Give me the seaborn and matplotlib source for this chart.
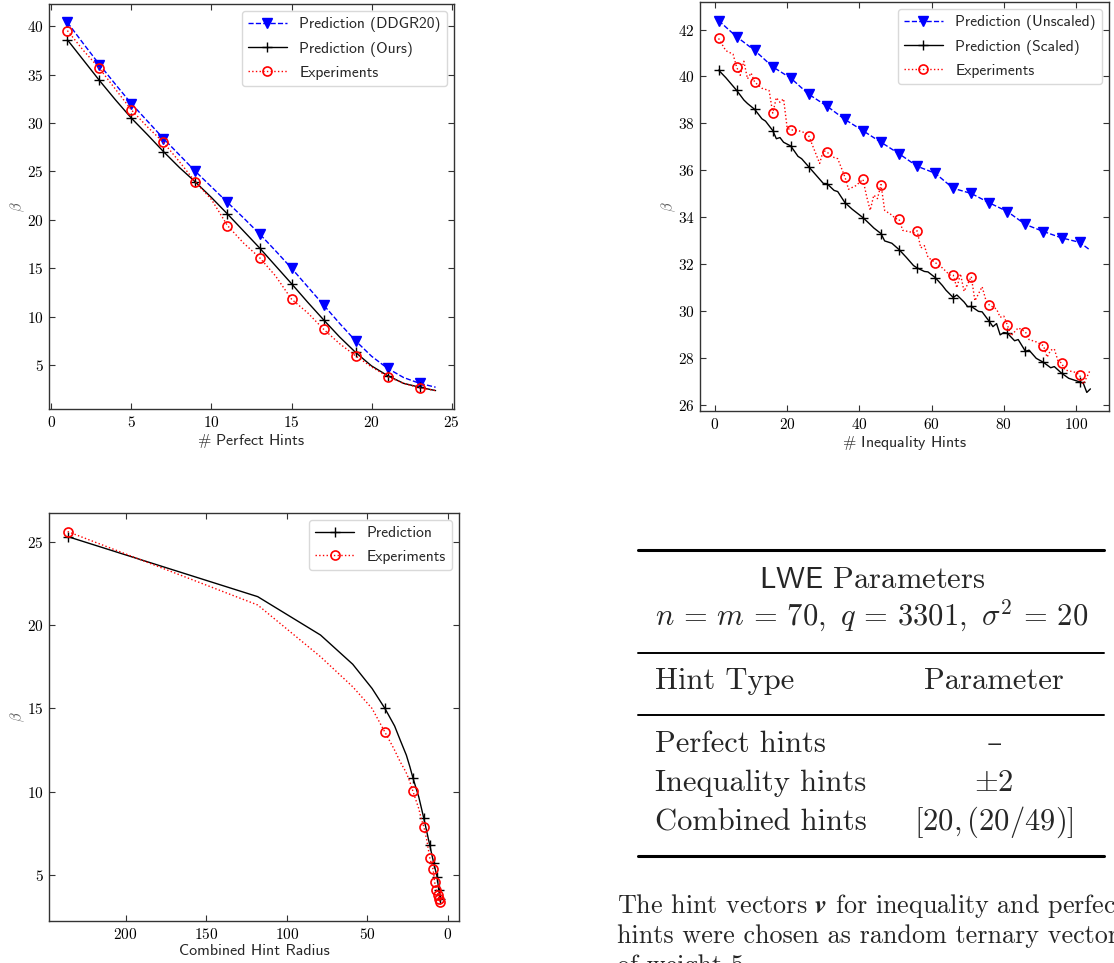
import matplotlib
matplotlib.use("Agg")
import matplotlib.pyplot as plt
import seaborn as sns
import numpy as np

# ---- Perfect hints (top left) ----
perfect_x = list(range(1, 25))
perfect_ddgr = [40.4, 38.2, 36.05, 34.0, 32.0, 30.2, 28.4, 26.7, 25.0, 23.4, 21.8, 20.2,
                18.55, 16.8, 15.0, 13.1, 11.2, 9.3, 7.5, 5.9, 4.65, 3.7, 3.1, 2.7]
perfect_ours = [38.6, 36.5, 34.4, 32.4, 30.5, 28.8, 27.05, 25.4, 23.9, 22.3, 20.6, 18.85,
                17.1, 15.25, 13.4, 11.5, 9.67, 7.9, 6.3, 4.9, 3.9, 3.1, 2.7, 2.35]
perfect_exp = [39.55, 37.5, 35.65, 33.5, 31.35, 29.6, 28.0, 26.0, 23.9, 22.1, 19.4, 17.6,
               16.1, 14.2, 11.8, 10.4, 8.7, 7.2, 5.95, 4.8, 3.8, 3.1, 2.63, 2.35]

# ---- Inequality hints (top right) ----
ineq_unscaled_x = [1, 6, 11, 16, 21, 26, 31, 36, 41, 46, 51, 56, 61, 66, 71, 76, 81, 86,
                   91, 96, 101, 104]
ineq_unscaled = [42.38, 41.69, 41.11, 40.41, 39.93, 39.24, 38.74, 38.17, 37.69, 37.2, 36.71,
                 36.18, 35.88, 35.24, 35.02, 34.62, 34.25, 33.7, 33.4, 33.13, 32.94, 32.6]
ineq_scaled_x = [1, 3, 6, 8, 9, 11, 13, 14, 16, 17, 18, 19, 21, 23, 24, 26, 28, 30, 31, 33,
                 34, 36, 38, 41, 43, 44, 46, 47, 49, 51, 53, 55, 56, 58, 59, 61, 63, 64, 66,
                 67, 69, 70, 71, 73, 74, 76, 77, 78, 79, 80, 81, 83, 84, 86, 87, 89, 91, 93,
                 94, 96, 98, 100, 101, 102, 103, 104]
ineq_scaled = [40.27, 39.95, 39.41, 39.0, 38.85, 38.6, 38.2, 38.1, 37.7, 37.35, 37.4, 37.2,
               37.04, 36.6, 36.5, 36.15, 35.8, 35.45, 35.44, 35.15, 35.1, 34.63, 34.35, 33.99,
               33.7, 33.55, 33.31, 33.0, 32.9, 32.63, 32.3, 31.95, 31.85, 31.7, 31.68, 31.44,
               31.1, 30.9, 30.59, 30.7, 30.4, 30.2, 30.21, 30.0, 29.98, 29.57, 29.35, 29.48,
               29.0, 29.1, 29.07, 28.75, 28.8, 28.3, 28.35, 28.0, 27.83, 27.6, 27.65, 27.37,
               27.15, 27.05, 27.0, 26.95, 26.55, 26.7]
ineq_exp_x = [1, 3, 5, 6, 7, 8, 9, 10, 11, 13, 15, 16, 17, 18, 19, 20, 21, 23, 25, 26, 29,
              30, 31, 33, 34, 36, 37, 39, 41, 42, 43, 44, 45, 46, 47, 49, 50, 51, 52, 55, 56,
              57, 58, 59, 61, 63, 65, 66, 67, 68, 69, 71, 72, 74, 75, 76, 78, 79, 80, 81, 82,
              84, 86, 87, 89, 91, 92, 93, 94, 95, 96, 97, 98, 100, 101, 102, 103, 104]
ineq_exp = [41.62, 41.1, 40.95, 40.4, 40.05, 40.65, 39.9, 40.15, 39.76, 39.5, 39.4, 38.44,
            39.1, 38.9, 39.05, 37.8, 37.73, 37.7, 37.6, 37.46, 36.3, 36.85, 36.78, 36.55,
            36.5, 35.72, 35.2, 35.35, 35.62, 34.9, 34.3, 34.95, 34.8, 35.4, 34.3, 34.1, 33.95,
            33.92, 33.45, 33.35, 33.43, 32.7, 32.8, 32.3, 32.08, 31.85, 31.55, 31.54, 31.0,
            31.6, 30.85, 31.48, 30.45, 31.05, 30.5, 30.27, 30.1, 29.75, 29.8, 29.42, 28.96,
            29.3, 29.13, 28.8, 28.7, 28.54, 28.05, 28.35, 28.4, 27.9, 27.8, 27.5, 27.47, 27.4,
            27.29, 26.9, 27.2, 27.52]

# ---- Combined hints (bottom left) ----
comb_pred_r = [236, 118, 79, 59, 47, 39, 33, 29.5, 25.7, 23.5, 21.6, 18, 14.9, 13, 11.2,
               8.7, 6.6, 5.6, 4.6]
comb_pred = [25.3, 21.7, 19.4, 17.65, 16.2, 15.0, 13.95, 13.1, 12.2, 11.5, 10.83, 9.7, 8.43,
             7.6, 6.82, 5.72, 4.92, 4.12, 3.6]
comb_pred_marks = [236, 39, 21.6, 14.9, 11.2, 8.7, 6.6, 5.6, 4.6]
comb_exp_r = [236, 118, 79, 59, 47, 39, 33.5, 29.5, 26, 23.5, 21.6, 18, 16.5, 14.9, 13,
              11.2, 9.1, 8.1, 7.0, 6.0, 5.5, 4.8]
comb_exp = [25.6, 21.2, 18.1, 16.3, 15.0, 13.58, 12.6, 11.8, 11.2, 10.6, 10.03, 9.0, 8.4,
            7.93, 7.1, 6.06, 5.36, 4.58, 4.12, 3.85, 3.6, 3.38]
comb_exp_marks = [236, 39, 21.6, 14.9, 11.2, 9.1, 8.1, 7.0, 6.0, 5.5, 4.8]

# ---- Table ----
table_rows = ["Perfect hints", "Inequality hints", "Combined hints"]
table_vals = ["\u2013", r"$\pm2$", r"$[20,(20/49)]$"]

sns.set_style("ticks")
plt.rcParams["font.family"] = ["cmr10", "DejaVu Serif"]
plt.rcParams["mathtext.fontset"] = "cm"
plt.rcParams["axes.formatter.use_mathtext"] = True
plt.rcParams["xtick.direction"] = "in"
plt.rcParams["ytick.direction"] = "in"
plt.rcParams["xtick.top"] = True
plt.rcParams["ytick.right"] = True
plt.rcParams["xtick.major.size"] = 4.5
plt.rcParams["ytick.major.size"] = 4.5
plt.rcParams["axes.edgecolor"] = "0.2"
plt.rcParams["xtick.color"] = "0.2"
plt.rcParams["ytick.color"] = "0.2"
plt.rcParams["xtick.labelcolor"] = "black"
plt.rcParams["ytick.labelcolor"] = "black"
plt.rcParams["axes.linewidth"] = 1.0

W, H = 1114, 963
fig = plt.figure(figsize=(W / 100, H / 100), dpi=100)


def px_axes(l, t, r, b):
    return fig.add_axes([l / W, 1 - b / H, (r - l) / W, (b - t) / H])


ax1 = px_axes(49, 4, 454, 409)
ax2 = px_axes(700, 2, 1109, 411)
ax3 = px_axes(49, 513, 459, 921)

SANS = "cmss10"


def marks_at(xs, picks):
    return [any(abs(x - p) < 1e-9 for p in picks) for x in xs]


blue_kw = dict(color="blue", linestyle="--", lw=1, marker="v", markersize=7, mec="blue", mew=1)
black_kw = dict(color="black", linestyle="-", lw=1, marker="+", markersize=7, mec="black", mew=1)
red_kw = dict(color="red", linestyle=":", lw=1, marker="o", markersize=6.5, mfc="none",
              mec="red", mew=1.2)

# top left
pm = marks_at(perfect_x, range(1, 25, 2))
sns.lineplot(x=perfect_x, y=perfect_ddgr, ax=ax1, markevery=pm,
             label="Prediction (DDGR20)", sort=False, **blue_kw)
sns.lineplot(x=perfect_x, y=perfect_ours, ax=ax1, markevery=pm,
             label="Prediction (Ours)", sort=False, **black_kw)
sns.lineplot(x=perfect_x, y=perfect_exp, ax=ax1, markevery=pm,
             label="Experiments", sort=False, **red_kw)
ax1.set_xticks([0, 5, 10, 15, 20, 25])
ax1.set_yticks([5, 10, 15, 20, 25, 30, 35, 40])
ax1.set_xlabel(r"$\#$ Perfect Hints", family=SANS, fontsize=11.5, labelpad=2)

# top right
sns.lineplot(x=ineq_unscaled_x, y=ineq_unscaled, ax=ax2,
             markevery=marks_at(ineq_unscaled_x, range(1, 105, 5)),
             label="Prediction (Unscaled)", sort=False, **blue_kw)
sns.lineplot(x=ineq_scaled_x, y=ineq_scaled, ax=ax2,
             markevery=marks_at(ineq_scaled_x, range(1, 105, 5)),
             label="Prediction (Scaled)", sort=False, **black_kw)
sns.lineplot(x=ineq_exp_x, y=ineq_exp, ax=ax2,
             markevery=marks_at(ineq_exp_x, range(1, 105, 5)),
             label="Experiments", sort=False, **red_kw)
ax2.set_xticks([0, 20, 40, 60, 80, 100])
ax2.set_yticks([26, 28, 30, 32, 34, 36, 38, 40, 42])
ax2.set_xlabel(r"$\#$ Inequality Hints", family=SANS, fontsize=11.5, labelpad=2)

# bottom left
sns.lineplot(x=comb_pred_r, y=comb_pred, ax=ax3,
             markevery=marks_at(comb_pred_r, comb_pred_marks),
             label="Prediction", sort=False, **black_kw)
sns.lineplot(x=comb_exp_r, y=comb_exp, ax=ax3,
             markevery=marks_at(comb_exp_r, comb_exp_marks),
             label="Experiments", sort=False, **red_kw)
ax3.invert_xaxis()
ax3.set_xticks([200, 150, 100, 50, 0])
ax3.set_yticks([5, 10, 15, 20, 25])
ax3.set_xlabel("Combined Hint Radius", family=SANS, fontsize=11.5, labelpad=2)

for ax in (ax1, ax2, ax3):
    ax.set_ylabel(r"$\beta$", fontsize=10.5, color="0.35", labelpad=-0.5)
    ax.tick_params(labelsize=11, pad=4)
    ax.legend(loc="upper right", prop={"family": SANS, "size": 11.2}, handlelength=2.5,
              borderaxespad=0.45, framealpha=1, edgecolor="0.85", labelspacing=0.6)

# table
line_l, line_r = 638 / W, 1104 / W
for yy, lw in [(550, 2.2), (653, 1.4), (715, 1.4), (856, 2.2)]:
    fig.add_artist(plt.Line2D([line_l, line_r], [1 - yy / H] * 2, color="black", lw=lw))

cx = 872 / W
fig.text(cx, 1 - 588 / H, r"$\mathsf{LWE}$ Parameters", fontsize=22, ha="center",
         va="baseline")
fig.text(cx, 1 - 625 / H, r"$n\,=\,m\,=\,70,\ q\,=\,3301,\ \sigma^2\,=\,20$", fontsize=22,
         ha="center", va="baseline")
fig.text(655 / W, 1 - 689 / H, "Hint Type", fontsize=22, ha="left", va="baseline")
fig.text(994 / W, 1 - 689 / H, "Parameter", fontsize=22, ha="center", va="baseline")
for i, (name, val) in enumerate(zip(table_rows, table_vals)):
    yb = 1 - (752 + 39 * i) / H
    fig.text(655 / W, yb, name, fontsize=22, ha="left", va="baseline")
    fig.text(994 / W, yb, val, fontsize=22, ha="center", va="baseline")

para = ["The hint vectors $\\boldsymbol{v}$ for inequality and perfect",
        "hints were chosen as random ternary vectors",
        "of weight 5."]
for i, line in enumerate(para):
    fig.text(617 / W, 1 - (913 + 30 * i) / H, line, fontsize=18.8, ha="left", va="baseline")

fig.savefig("out.png", dpi=100)
